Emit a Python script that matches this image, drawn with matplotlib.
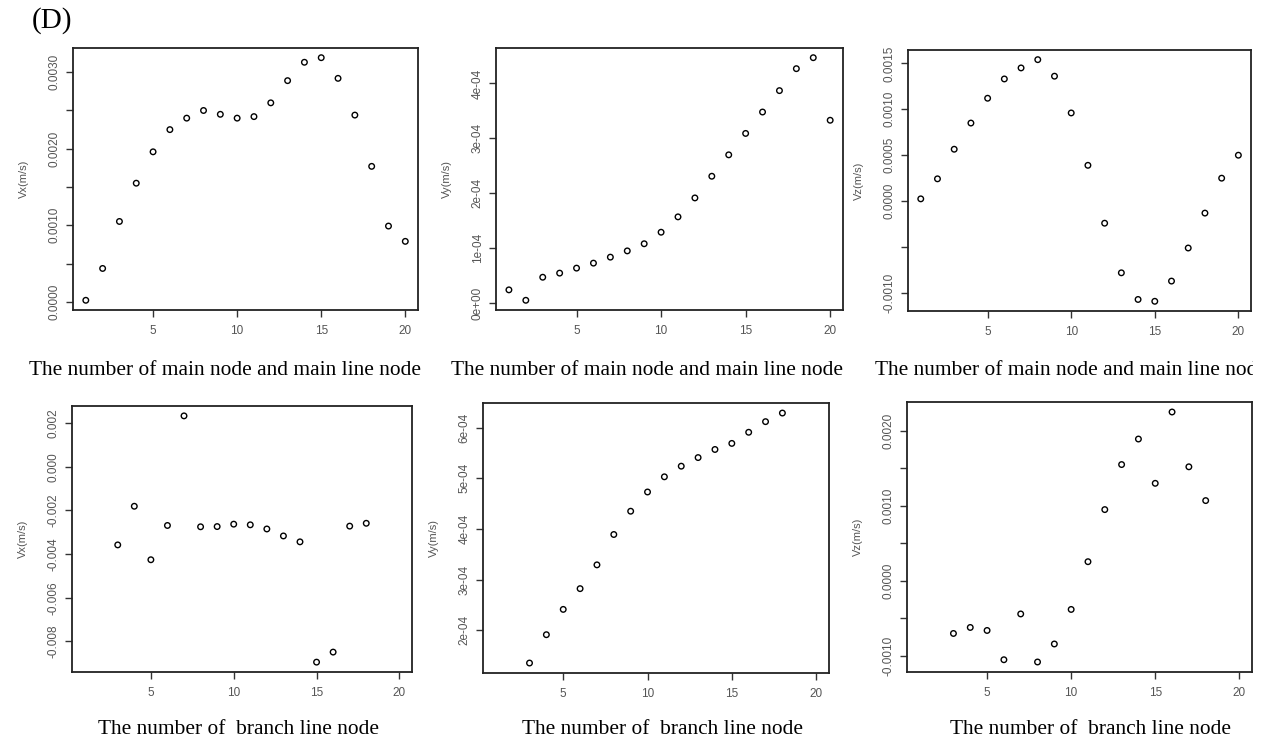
import numpy as np
import matplotlib
matplotlib.use("Agg")
from matplotlib import pyplot as plt
from matplotlib.transforms import Bbox, TransformedBbox

# main line nodes 1..20
main_x = list(range(1, 21))
main_vx = [0.00002, 0.000436, 0.00105, 0.00155, 0.00196, 0.00225, 0.0024, 0.0025, 0.00245, 0.0024,
           0.00242, 0.0026, 0.00289, 0.00313, 0.00319, 0.00292, 0.00244, 0.00177, 0.00099, 0.00079]
main_vy = [0.24e-4, 0.05e-4, 0.47e-4, 0.545e-4, 0.636e-4, 0.727e-4, 0.836e-4, 0.95e-4, 1.08e-4, 1.29e-4,
           1.57e-4, 1.915e-4, 2.31e-4, 2.70e-4, 3.09e-4, 3.48e-4, 3.87e-4, 4.27e-4, 4.47e-4, 3.33e-4]
main_vz = [0.000025, 0.000243, 0.000565, 0.00085, 0.00112, 0.00133, 0.00145, 0.00154, 0.00136, 0.00096,
           0.00039, -0.00024, -0.00078, -0.00107, -0.00109, -0.00087, -0.00051, -0.00013, 0.00025, 0.0005]

# branch line nodes 3..18
branch_x = list(range(3, 19))
branch_vx = [-0.00358, -0.00181, -0.00426, -0.00269, 0.00233, -0.00275, -0.00274, -0.00263,
             -0.00266, -0.00285, -0.00317, -0.00344, -0.00895, -0.00849, -0.00272, -0.00259]
branch_vy = [1.35e-4, 1.91e-4, 2.41e-4, 2.82e-4, 3.29e-4, 3.89e-4, 4.35e-4, 4.73e-4,
             5.03e-4, 5.24e-4, 5.41e-4, 5.57e-4, 5.69e-4, 5.91e-4, 6.12e-4, 6.29e-4]
branch_vz = [-0.0007, -0.00062, -0.00066, -0.00105, -0.00044, -0.00108, -0.00084, -0.00038,
             0.000256, 0.00095, 0.00155, 0.00189, 0.0013, 0.00225, 0.00152, 0.00107]

xticks = [5, 10, 15, 20]

panels = [
    # x, y, ylabel, yticks, labelled ticks, fmt, axes rect
    (main_x, main_vx, "Vx(m/s)", [0, 0.0005, 0.001, 0.0015, 0.002, 0.0025, 0.003],
     [0, 0.001, 0.002, 0.003], "{:.4f}", [0.0575, 0.5839, 0.2717, 0.3517]),
    (main_x, main_vy, "Vy(m/s)", [0, 1e-4, 2e-4, 3e-4, 4e-4],
     [0, 1e-4, 2e-4, 3e-4, 4e-4], "sci", [0.3906, 0.5839, 0.2732, 0.3517]),
    (main_x, main_vz, "Vz(m/s)", [-0.001, -0.0005, 0, 0.0005, 0.001, 0.0015],
     [-0.001, 0, 0.0005, 0.001, 0.0015], "{:.4f}", [0.7150, 0.5826, 0.2701, 0.3503]),
    (branch_x, branch_vx, "Vx(m/s)", [-0.008, -0.006, -0.004, -0.002, 0, 0.002],
     [-0.008, -0.006, -0.004, -0.002, 0, 0.002], "{:.3f}", [0.0567, 0.0980, 0.2677, 0.3570]),
    (branch_x, branch_vy, "Vy(m/s)", [2e-4, 3e-4, 4e-4, 5e-4, 6e-4],
     [2e-4, 3e-4, 4e-4, 5e-4, 6e-4], "sci", [0.3803, 0.0966, 0.2724, 0.3624]),
    (branch_x, branch_vz, "Vz(m/s)", [-0.001, -0.0005, 0, 0.0005, 0.001, 0.0015, 0.002],
     [-0.001, 0, 0.001, 0.002], "{:.4f}", [0.7142, 0.0980, 0.2717, 0.3624]),
]


def fmt_tick(v, fmt):
    if fmt == "sci":
        if abs(v) < 1e-12:
            return "0e+00"
        e = int(np.floor(np.log10(abs(v)) + 1e-9))
        m = v / 10 ** e
        return "%de-%02d" % (round(m), -e)
    s = fmt.format(v)
    if s.startswith("-0.0") and float(s) == 0:
        s = s[1:]
    return s


fig = plt.figure(figsize=(12.7, 7.45), dpi=100)
gray = "#555555"

for x, y, ylab, yt, ylbl, fmt, rect in panels:
    ax = fig.add_axes(rect)
    ax.scatter(x, y, s=16, facecolors="none", edgecolors="black", linewidths=1.0, marker="o")
    ax.set_xlim(0.24, 20.76)
    ymin, ymax = min(y), max(y)
    pad = 0.04 * (ymax - ymin)
    ax.set_ylim(ymin - pad, ymax + pad)
    ax.set_xticks(xticks)
    ax.set_xticklabels([str(t) for t in xticks], fontsize=8.5, color=gray, family="Liberation Sans")
    ax.set_yticks(yt)
    labels = []
    for t in yt:
        if any(abs(t - l) < 1e-10 for l in ylbl):
            labels.append(fmt_tick(t, fmt))
        else:
            labels.append("")
    ax.set_yticklabels(labels, fontsize=8.5, color=gray, family="Liberation Sans",
                       rotation=90, va="center")
    ax.tick_params(direction="out", length=5, width=1, color="#333333", pad=4)
    ax.tick_params(axis="x", pad=6)
    for sp in ax.spines.values():
        sp.set_linewidth(1.3)
        sp.set_color("#222222")
    ax.set_ylabel(ylab, fontsize=8, color=gray, family="Liberation Sans", labelpad=14)

serif = "Liberation Serif"
fig.text(0.025, 0.972, "(D)", fontsize=21, family=serif, ha="left", va="center")

top_label = "The number of main node and main line node"
top_y = 1 - 371 / 745
fig.text(225 / 1270, top_y, top_label, fontsize=15.4, family=serif, ha="center", va="center")
fig.text(647 / 1270, top_y, top_label, fontsize=15.4, family=serif, ha="center", va="center")
t3 = fig.text(875 / 1270, top_y, top_label, fontsize=15.4, family=serif, ha="left", va="center")
t3.set_clip_box(TransformedBbox(Bbox([[0, 0], [1253 / 1270, 1]]), fig.transFigure))
t3.set_clip_on(True)

bot_label = "The number of  branch line node"
bot_y = 1 - 729 / 745
fig.text(238 / 1270, bot_y, bot_label, fontsize=15.4, family=serif, ha="center", va="center")
fig.text(662 / 1270, bot_y, bot_label, fontsize=15.4, family=serif, ha="center", va="center")
fig.text(1091 / 1270, bot_y, bot_label, fontsize=15.4, family=serif, ha="center", va="center")

fig.savefig("out.png", dpi=100)
